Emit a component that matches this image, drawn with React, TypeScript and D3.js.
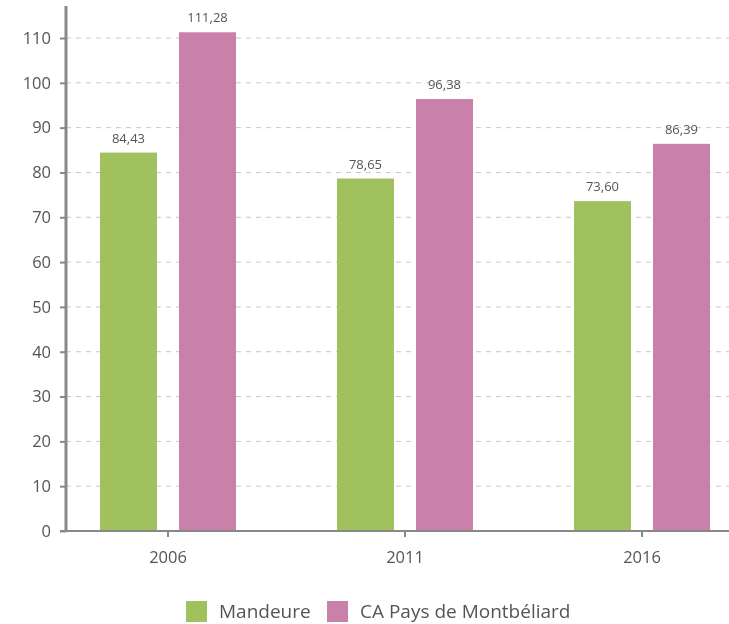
import * as d3 from "d3";
import React, { useRef, useEffect } from "react";

const years = ["2006", "2011", "2016"];
const mandeure = [84.43, 78.65, 73.6];
const caPays = [111.28, 96.38, 86.39];
const seriesNames = ["Mandeure", "CA Pays de Montbéliard"];
const colors = ["#a0c15e", "#c981a9"];
const yTicks = [0, 10, 20, 30, 40, 50, 60, 70, 80, 90, 100, 110];

const width = 729;
const height = 624;
const font = "'Open Sans', sans-serif";

function Chart() {
  const ref = useRef(null);

  useEffect(() => {
    const svg = d3.select(ref.current);
    svg.selectAll("*").remove();

    const scaleX = d3.scaleBand().domain(years).range([49.5, 760.5]);
    const scaleY = d3.scaleLinear().domain([0, 110]).range([531, 38]);

    // Grid
    svg
      .append("g")
      .selectAll("line")
      .data(yTicks.filter((d) => d > 0))
      .join("line")
      .attr("x1", 66)
      .attr("x2", width)
      .attr("y1", (d) => scaleY(d))
      .attr("y2", (d) => scaleY(d))
      .attr("stroke", "#c8c8c8")
      .attr("stroke-width", 1)
      .attr("stroke-dasharray", "5,5");

    // Bars
    const series = [mandeure, caPays];
    const barW = 57;
    const offset = 39.5;
    series.forEach((vals, si) => {
      const g = svg.append("g");
      const cx = (d: string) =>
        (scaleX(d) as number) + scaleX.bandwidth() / 2 + (si === 0 ? -offset : offset);
      g.selectAll("rect")
        .data(years)
        .join("rect")
        .attr("x", (d) => cx(d) - barW / 2)
        .attr("width", barW)
        .attr("y", (d, i) => scaleY(vals[i]))
        .attr("height", (d, i) => scaleY(0) - scaleY(vals[i]))
        .attr("fill", colors[si]);
      g.selectAll("text")
        .data(years)
        .join("text")
        .attr("x", (d) => cx(d))
        .attr("y", (d, i) => scaleY(vals[i]) - 10)
        .attr("text-anchor", "middle")
        .style("font-family", font)
        .style("font-size", "13px")
        .attr("fill", "#555")
        .text((d, i) => vals[i].toFixed(2).replace(".", ","));
    });

    // Y axis
    const yAxis = svg.append("g").attr("transform", "translate(66,0)");
    yAxis
      .call(d3.axisLeft(scaleY).tickValues(yTicks).tickSize(6).tickSizeOuter(0))
      .call((g: any) => g.select(".domain").remove());
    yAxis.selectAll(".tick line").attr("stroke", "#888").attr("stroke-width", 2);
    yAxis
      .selectAll(".tick text")
      .attr("x", -15)
      .attr("fill", "#555")
      .style("font-family", font)
      .style("font-size", "16.5px");
    yAxis
      .append("line")
      .attr("x1", 0)
      .attr("x2", 0)
      .attr("y1", 6)
      .attr("y2", 532)
      .attr("stroke", "#888")
      .attr("stroke-width", 3);

    // X axis
    const xAxis = svg.append("g").attr("transform", "translate(0,531)");
    xAxis
      .call(d3.axisBottom(scaleX).tickSize(6).tickSizeOuter(0))
      .call((g: any) => g.select(".domain").remove());
    xAxis.selectAll(".tick line").attr("stroke", "#888").attr("stroke-width", 2);
    xAxis
      .selectAll(".tick text")
      .attr("y", 20)
      .attr("fill", "#555")
      .style("font-family", font)
      .style("font-size", "16.5px");
    xAxis
      .append("line")
      .attr("x1", 60)
      .attr("x2", width)
      .attr("y1", 0)
      .attr("y2", 0)
      .attr("stroke", "#888")
      .attr("stroke-width", 2);

    // Legend
    const legendX = [186, 327];
    const legend = svg.append("g");
    seriesNames.forEach((name, i) => {
      legend
        .append("rect")
        .attr("x", legendX[i])
        .attr("y", 601)
        .attr("width", 21)
        .attr("height", 21)
        .attr("fill", colors[i]);
      legend
        .append("text")
        .attr("x", legendX[i] + 33)
        .attr("y", 611.5)
        .attr("dy", "0.35em")
        .style("font-family", font)
        .style("font-size", "19px")
        .attr("fill", "#555")
        .text(name);
    });
  }, []);

  return <svg ref={ref} width={width} height={height} style={{ display: "block" }} />;
}

export default function App() {
  return (
    <div style={{ position: "fixed", top: 0, left: 0, width, height, overflow: "hidden" }}>
      <Chart />
    </div>
  );
}
